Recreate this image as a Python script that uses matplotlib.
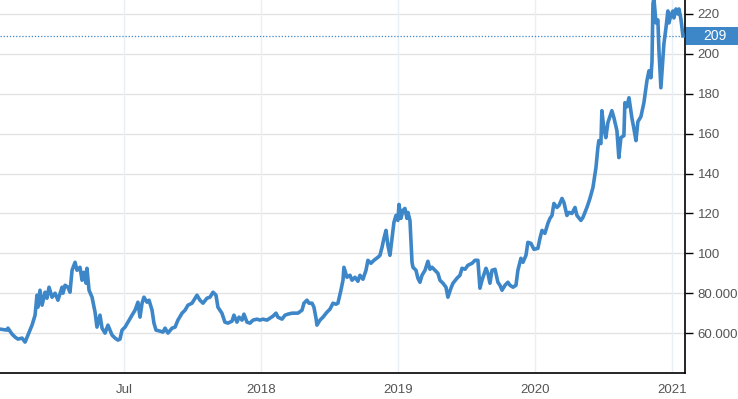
import matplotlib
matplotlib.use("Agg")
import matplotlib.pyplot as plt
import matplotlib.transforms as mtransforms
from matplotlib.patches import Rectangle

plt.rcParams['font.family'] = ['Liberation Sans', 'DejaVu Sans']

# time as decimal year, price values
years = [
    2016.093, 2016.144, 2016.151, 2016.181, 2016.203, 2016.224, 2016.254, 2016.276, 2016.297, 2016.327,
    2016.349, 2016.363, 2016.370, 2016.385, 2016.400, 2016.422, 2016.436, 2016.451, 2016.473, 2016.495,
    2016.516, 2016.546, 2016.553, 2016.568, 2016.589, 2016.604, 2016.619, 2016.641, 2016.655, 2016.677,
    2016.692, 2016.706, 2016.721, 2016.728, 2016.743, 2016.765, 2016.787, 2016.801, 2016.823, 2016.838,
    2016.860, 2016.881, 2016.911, 2016.933, 2016.954, 2016.969, 2016.984, 2017.006, 2017.027, 2017.057,
    2017.079, 2017.100, 2017.115, 2017.130, 2017.144, 2017.166, 2017.181, 2017.203, 2017.217, 2017.232,
    2017.261, 2017.283, 2017.298, 2017.319, 2017.349, 2017.371, 2017.392, 2017.422, 2017.444, 2017.465,
    2017.495, 2017.517, 2017.531, 2017.553, 2017.575, 2017.604, 2017.626, 2017.648, 2017.670, 2017.684,
    2017.713, 2017.735, 2017.757, 2017.787, 2017.801, 2017.823, 2017.838, 2017.860, 2017.874, 2017.896,
    2017.918, 2017.940, 2017.969, 2017.991, 2018.013, 2018.042, 2018.064, 2018.086, 2018.108, 2018.122,
    2018.152, 2018.174, 2018.195, 2018.225, 2018.247, 2018.268, 2018.298, 2018.312, 2018.334, 2018.349,
    2018.371, 2018.385, 2018.400, 2018.407, 2018.429, 2018.451, 2018.480, 2018.502, 2018.524, 2018.546,
    2018.560, 2018.582, 2018.597, 2018.604, 2018.626, 2018.648, 2018.663, 2018.685, 2018.706, 2018.721,
    2018.743, 2018.765, 2018.779, 2018.801, 2018.823, 2018.852, 2018.867, 2018.882, 2018.896, 2018.911,
    2018.925, 2018.940, 2018.955, 2018.969, 2018.984, 2018.998, 2019.006, 2019.020, 2019.035, 2019.049,
    2019.064, 2019.071, 2019.086, 2019.101, 2019.108, 2019.130, 2019.144, 2019.159, 2019.174, 2019.196,
    2019.217, 2019.232, 2019.247, 2019.269, 2019.290, 2019.305, 2019.327, 2019.349, 2019.363, 2019.385,
    2019.400, 2019.429, 2019.451, 2019.466, 2019.488, 2019.509, 2019.539, 2019.561, 2019.582, 2019.597,
    2019.612, 2019.641, 2019.655, 2019.670, 2019.685, 2019.707, 2019.728, 2019.743, 2019.758, 2019.780,
    2019.801, 2019.816, 2019.838, 2019.860, 2019.874, 2019.896, 2019.911, 2019.933, 2019.947, 2019.969,
    2019.991, 2020.020, 2020.035, 2020.050, 2020.071, 2020.093, 2020.108, 2020.123, 2020.137, 2020.159,
    2020.174, 2020.196, 2020.210, 2020.232, 2020.247, 2020.269, 2020.291, 2020.305, 2020.334, 2020.349,
    2020.378, 2020.400, 2020.422, 2020.444, 2020.458, 2020.465, 2020.480, 2020.487, 2020.502, 2020.516,
    2020.531, 2020.560, 2020.575, 2020.597, 2020.611, 2020.626, 2020.648, 2020.655, 2020.670, 2020.685,
    2020.706, 2020.721, 2020.736, 2020.750, 2020.772, 2020.794, 2020.816, 2020.831, 2020.845, 2020.853,
    2020.860, 2020.867, 2020.882, 2020.896, 2020.904, 2020.918, 2020.933, 2020.940, 2020.955, 2020.969,
    2020.977, 2020.991, 2021.006, 2021.013, 2021.028, 2021.042, 2021.050, 2021.064, 2021.079,
]
prices = [
    62, 61.5, 62.5, 59.5, 58, 57, 57.5, 55.5, 59, 64,
    69, 79, 73, 81.5, 74, 80.5, 77.5, 83, 78, 80,
    76.5, 83, 80, 84, 83, 80.5, 91.5, 95.5, 91.5, 93,
    86.5, 90.5, 85, 92.5, 81.5, 78, 70.5, 63, 69, 62.5,
    60, 64, 59, 57.5, 56.5, 57, 61.5, 63, 65.5, 69,
    71.5, 75.5, 68, 75, 78, 75.5, 76.5, 71.5, 65, 61.5,
    61, 60.5, 62.5, 60, 62.5, 63, 66.5, 70, 71.5, 74,
    75, 77.5, 79, 76.5, 75, 77.5, 78, 80.5, 79, 73,
    70, 65.5, 65, 66, 69, 65.5, 68, 66.5, 69.5, 65.5,
    65, 66.5, 67, 66.5, 67, 66.5, 67.5, 68.5, 70, 68,
    67, 69, 69.5, 70, 70, 70, 71.5, 75, 76.5, 75,
    75, 73, 67.5, 64, 66.5, 68, 70.5, 72, 75, 74.5,
    75, 81.5, 86.5, 93, 88, 89, 86.5, 88, 86, 89,
    87, 91.5, 96.5, 95, 96.5, 98, 99, 103, 107.5, 111.5,
    104, 99, 107.5, 115.5, 119, 116.5, 124.5, 117.5, 121.5, 122.5,
    117.5, 120.5, 116.5, 95.5, 93, 91.5, 87.5, 85.5, 89, 91.5,
    96, 92, 93, 91.5, 90, 86.5, 85, 83, 78, 82.5,
    85, 87.5, 89, 92.5, 92, 94, 95, 96.5, 96.5, 82.5,
    86.5, 92.5, 90, 85, 91.5, 92, 85.5, 84, 81.5, 84,
    85.5, 84, 83, 84, 91.5, 97.5, 95.5, 99, 105.5, 105,
    102, 102.5, 107.5, 111.5, 110, 115, 117.5, 119, 125, 123,
    124, 127.5, 125.5, 119, 120.5, 120, 123, 119, 116.5, 118,
    123, 127.5, 133, 143, 153, 156.5, 155, 171.5, 162.5, 158,
    165.5, 171.5, 168, 161.5, 148, 158, 159, 175.5, 173.5, 178,
    168, 162.5, 156.5, 166, 168.5, 175.5, 186.5, 191.5, 188, 196,
    225, 228, 215.5, 217, 201.5, 183, 198, 205, 213, 221.5,
    215.5, 219.5, 221.5, 218, 222.5, 220, 222.5, 217.5, 209,
]
last_value = 209

x_ticks = [2017, 2018, 2019, 2020, 2021]
x_labels = ["Jul", "2018", "2019", "2020", "2021"]
y_ticks = [60, 80, 100, 120, 140, 160, 180, 200, 220]
y_labels = ["60.000", "80.000", "100", "120", "140", "160", "180", "200", "220"]

blue = "#3d87c9"

fig = plt.figure(figsize=(7.38, 3.99), dpi=100)
ax = fig.add_axes([0.0, 26 / 399, 685 / 738, 373 / 399])

ax.plot(years, prices, color=blue, linewidth=2.6, solid_joinstyle="round", zorder=3)
ax.axhline(last_value, color=blue, linewidth=0.9, linestyle=(0, (1, 1.5)), zorder=2)

ax.set_xlim(2016.093, 2021.094)
ax.set_ylim(40, 227)

ax.set_xticks(x_ticks)
ax.set_xticklabels(x_labels)
ax.set_yticks(y_ticks)
ax.set_yticklabels(y_labels)

ax.yaxis.tick_right()
ax.tick_params(axis="y", direction="out", length=6, width=1, color="black",
               labelsize=9.5, labelcolor="#555555", pad=3)
ax.tick_params(axis="x", length=0, labelsize=9.5, labelcolor="#555555", pad=8)

ax.grid(axis="y", color="#e3e3e3", linewidth=1)
for t in x_ticks:
    ax.axvline(t, color="#e8eff6", linewidth=1, zorder=1)
ax.set_axisbelow(True)

for side in ["top", "left"]:
    ax.spines[side].set_visible(False)
ax.spines["right"].set_color("black")
ax.spines["bottom"].set_color("black")
ax.spines["right"].set_linewidth(1.2)
ax.spines["bottom"].set_linewidth(1.2)

# last value tag on the right axis
trans = mtransforms.blended_transform_factory(ax.transAxes, ax.transData)
ax.add_patch(Rectangle((1.002, last_value - 4.6), 0.08, 9.2, transform=trans,
                       facecolor=blue, edgecolor="none", clip_on=False, zorder=5))
ax.text(1.043, last_value, str(last_value), transform=trans, ha="center", va="center",
        color="white", fontsize=10, clip_on=False, zorder=6)

fig.savefig("out.png", dpi=100)
